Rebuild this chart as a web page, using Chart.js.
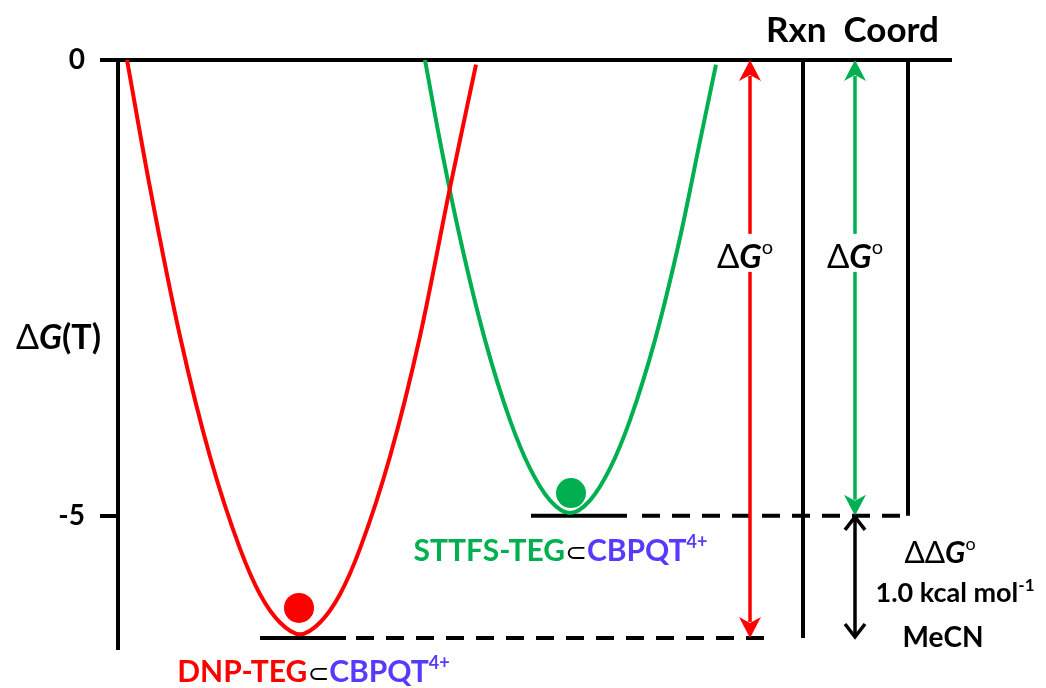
<!DOCTYPE html>
<html>
<head>
<meta charset="utf-8">
<script src="https://cdn.jsdelivr.net/npm/chart.js@4.4.1/dist/chart.umd.min.js"></script>
<style>
  html, body { margin: 0; padding: 0; background: #fff; }
  canvas { display: block; }
</style>
</head>
<body>
<canvas id="chart" width="1046" height="688"></canvas>
<script>
// Energy diagram: two free energy wells along the reaction coordinate

const FONT = 'Lato, "Open Sans", "DejaVu Sans", sans-serif';
const RED = '#FF0000';
const GREEN = '#00B050';
const BLUE = '#553BFF';

// axis ticks (kcal/mol)
const tickValues = [0, -5];

// DNP-TEG well
const dnpCurveX = [9, 32, 62, 92, 122, 142, 162, 182, 202, 222, 242, 272, 302, 332, 358];
const dnpCurveY = [0, -1.40, -3.03, -4.35, -5.36, -5.86, -6.17, -6.30, -6.17, -5.86, -5.36, -4.35, -3.03, -1.40, -0.05];

// STTFS-TEG well
const sttfsCurveX = [307, 322, 342, 367, 392, 412, 432, 452, 472, 492, 512, 537, 562, 582, 598];
const sttfsCurveY = [0, -0.89, -1.95, -3.07, -3.95, -4.48, -4.83, -4.97, -4.83, -4.48, -3.95, -3.07, -1.95, -0.89, -0.05];

// ground state levels and the balls sitting in the wells
const levelEnergy = [-6.34, -5.0];       // DNP, STTFS
const ballX = [181, 453];
const ballY = [-6.01, -4.75];

// where things sit along the reaction coordinate
const levelSolidX = [[142, 228], [413, 509]];
const levelDashX = [[238, 654], [524, 782]];
const rxnLineX = 685;
const coordLineX = 790;
const arrowX = [632, 737];

function pts(xs, ys) {
  return xs.map((x, i) => ({ x: x, y: ys[i] }));
}

function seg(x1, y1, x2, y2) {
  return [{ x: x1, y: y1 }, { x: x2, y: y2 }];
}

function f(weight, size, style) {
  return (style || '') + ' ' + weight + ' ' + size + 'px ' + FONT;
}

// text runs: [text, font, colour, rise]
function dG(size) {
  return [
    ['Δ', f(400, size), '#000', 0],
    ['G', f(700, size, 'italic'), '#000', 0],
    ['o', f(400, Math.round(size * 0.6)), '#000', Math.round(size * 0.42)]
  ];
}

const labels = [
  { x: 734.5, y: 0.2, runs: [['Rxn  Coord', f(700, 35), '#000', 0]] },
  { x: -59.5, y: -3.17, runs: [['Δ', f(400, 34), '#000', 0], ['G', f(700, 34, 'italic'), '#000', 0], ['(T)', f(700, 34), '#000', 0]] },
  { x: 627, y: -2.28, runs: dG(33), box: true },
  { x: 737, y: -2.28, runs: dG(33), box: true },
  { x: 822, y: -5.52, runs: [['ΔΔ', f(400, 30), '#000', 0], ['G', f(700, 30, 'italic'), '#000', 0], ['o', f(400, 18), '#000', 13]] },
  { x: 837, y: -5.95, runs: [['1.0 kcal mol', f(700, 27), '#000', 0], ['-1', f(700, 17), '#000', 11]] },
  { x: 825, y: -6.44, runs: [['MeCN', f(700, 28), '#000', 0]] },
  { x: 442.5, y: -5.50, runs: [['STTFS-TEG', f(700, 30), GREEN, 0], ['⊂', f(400, 26), '#000', 0], ['CBPQT', f(700, 30), BLUE, 0], ['4+', f(700, 18), BLUE, 13]] },
  { x: 195.5, y: -6.82, runs: [['DNP-TEG', f(700, 30), RED, 0], ['⊂', f(400, 26), '#000', 0], ['CBPQT', f(700, 30), BLUE, 0], ['4+', f(700, 18), BLUE, 13]] }
];

const arrows = [
  { x: arrowX[0], from: 0, to: levelEnergy[0], color: RED, head: 'solid' },
  { x: arrowX[1], from: 0, to: levelEnergy[1], color: GREEN, head: 'solid' },
  { x: arrowX[1], from: levelEnergy[1], to: levelEnergy[0], color: '#000', head: 'open' }
];

// draw arrow heads at both ends
function drawHead(ctx, x, tipY, dir, color, kind) {
  ctx.save();
  if (kind === 'solid') {
    ctx.fillStyle = color;
    ctx.beginPath();
    ctx.moveTo(x, tipY);
    ctx.lineTo(x + 11, tipY + dir * 21);
    ctx.lineTo(x, tipY + dir * 15);
    ctx.lineTo(x - 11, tipY + dir * 21);
    ctx.closePath();
    ctx.fill();
  } else {
    ctx.strokeStyle = color;
    ctx.lineWidth = 3.5;
    ctx.lineJoin = 'miter';
    ctx.beginPath();
    ctx.moveTo(x - 10, tipY + dir * 14);
    ctx.lineTo(x, tipY + 1 * dir);
    ctx.lineTo(x + 10, tipY + dir * 14);
    ctx.stroke();
  }
  ctx.restore();
}

function drawRuns(ctx, runs, cx, baseline, box) {
  let width = 0;
  runs.forEach(r => { ctx.font = r[1]; width += ctx.measureText(r[0]).width; });
  let x = cx - width / 2;
  if (box) {
    ctx.fillStyle = '#fff';
    ctx.fillRect(x - 3, baseline - 34, width + 6, 38);
  }
  ctx.textBaseline = 'alphabetic';
  ctx.textAlign = 'left';
  runs.forEach(r => {
    ctx.font = r[1];
    ctx.fillStyle = r[2];
    ctx.fillText(r[0], x, baseline - r[3]);
    x += ctx.measureText(r[0]).width;
  });
}

const diagramPlugin = {
  id: 'diagram',
  afterDatasetsDraw(chart) {
    const ctx = chart.ctx;
    const xs = chart.scales.x;
    const ys = chart.scales.y;

    arrows.forEach(a => {
      const px = xs.getPixelForValue(a.x);
      const y1 = ys.getPixelForValue(a.from);
      const y2 = ys.getPixelForValue(a.to);
      const inset = a.head === 'solid' ? 16 : 1;
      ctx.save();
      ctx.strokeStyle = a.color;
      ctx.lineWidth = 3.5;
      ctx.beginPath();
      ctx.moveTo(px, y1 + inset);
      ctx.lineTo(px, y2 - inset);
      ctx.stroke();
      ctx.restore();
      drawHead(ctx, px, y1, 1, a.color, a.head);
      drawHead(ctx, px, y2, -1, a.color, a.head);
    });

    labels.forEach(l => {
      ctx.save();
      drawRuns(ctx, l.runs, xs.getPixelForValue(l.x), ys.getPixelForValue(l.y), l.box);
      ctx.restore();
    });
  }
};

const lineStyle = { borderColor: '#000', borderWidth: 4, pointRadius: 0, showLine: true, fill: false };

const datasets = [
  { data: pts(dnpCurveX, dnpCurveY), borderColor: RED, borderWidth: 4, pointRadius: 0, showLine: true, cubicInterpolationMode: 'monotone' },
  { data: pts(sttfsCurveX, sttfsCurveY), borderColor: GREEN, borderWidth: 4, pointRadius: 0, showLine: true, cubicInterpolationMode: 'monotone' },
  { data: [{ x: ballX[0], y: ballY[0] }], pointRadius: 15, backgroundColor: RED, borderWidth: 0 },
  { data: [{ x: ballX[1], y: ballY[1] }], pointRadius: 15, backgroundColor: GREEN, borderWidth: 0 }
];

levelEnergy.forEach((e, i) => {
  datasets.push(Object.assign({ data: seg(levelSolidX[i][0], e, levelSolidX[i][1], e) }, lineStyle));
  datasets.push(Object.assign({ data: seg(levelDashX[i][0], e, levelDashX[i][1], e), borderDash: [18, 12] }, lineStyle));
});
datasets.push(Object.assign({ data: seg(rxnLineX, 0, rxnLineX, levelEnergy[0]) }, lineStyle));
datasets.push(Object.assign({ data: seg(coordLineX, 0, coordLineX, levelEnergy[1]) }, lineStyle));

new Chart(document.getElementById('chart').getContext('2d'), {
  type: 'scatter',
  data: { datasets: datasets },
  options: {
    responsive: false,
    devicePixelRatio: 1,
    animation: false,
    layout: { padding: { left: 0, right: 94, top: 60, bottom: 40 } },
    plugins: { legend: { display: false }, tooltip: { enabled: false } },
    scales: {
      x: { type: 'linear', min: 0, max: 834, display: false },
      y: {
        type: 'linear',
        min: -6.45,
        max: 0,
        afterFit(scale) { scale.width = 118; },
        afterBuildTicks(scale) { scale.ticks = tickValues.map(v => ({ value: v })); },
        border: { display: true, color: '#000', width: 4 },
        grid: {
          color: c => (c.tick && c.tick.value === 0 ? '#000' : 'rgba(0,0,0,0)'),
          tickColor: '#000',
          lineWidth: 4,
          tickWidth: 4,
          tickLength: 18
        },
        ticks: {
          color: '#000',
          padding: 15,
          font: { family: FONT, size: 28, weight: 'bold' },
          callback: v => String(v)
        }
      }
    }
  },
  plugins: [diagramPlugin]
});
</script>
</body>
</html>
